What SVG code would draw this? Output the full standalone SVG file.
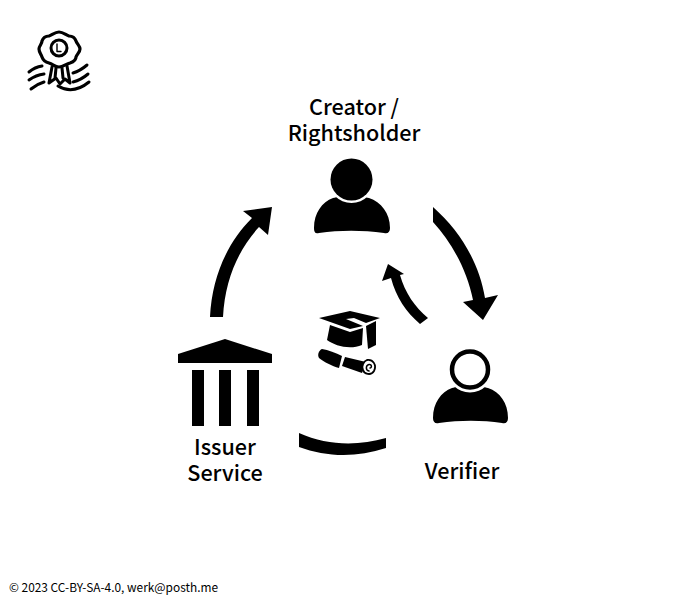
<svg xmlns="http://www.w3.org/2000/svg" width="680" height="604" viewBox="0 0 680 604">
<style>
text{font-family:"Noto Sans CJK SC","Noto Sans",sans-serif;fill:#000}
.l{font-size:21.600px;font-weight:500;text-anchor:middle}
.s{fill:none;stroke:#000;stroke-linecap:round;stroke-linejoin:round}
</style>
<rect width="680" height="604" fill="#fff"/>
<g id="connectors">
<path d="M210 317C212 277 227 243 252 218L243 211L272 207L268 235L259 227C238 250 225 280 223 317Z"/>
<path d="M433 207C460 231 479 262 485 298L498 295L483 320L463 302L473 300C467 270 452 243 433 222Z"/>
<path d="M428 318C415 307 405 293 400 275L404 274L388 264L382 281L391 278C396 297 406 312 420 324Z"/>
<path d="M299 433C328 446 358 446 386 438L386 448C356 458 326 457 299 447Z"/>
</g>
<g id="license-badge">
<path class="s" stroke-width="3.200" d="M59 32C63 32 66 35 69 36C73 36 75 38 76 41C77 44 80 46 80 49C80 52 77 54 76 57C76 60 73 62 70 63C66 64 63 67 59 67C55 67 53 64 49 63C45 62 43 60 42 57C41 54 39 52 39 49C39 46 42 44 42 41C43 38 45 36 49 36C52 35 55 32 59 32Z"/>
<circle class="s" stroke-width="3" cx="59" cy="48" r="8"/>
<path class="s" stroke-width="1.400" d="M57 44V51.500H61"/>
<path class="s" stroke-width="3" d="M52 67L49 83L56 78L60 84L65 79L70 83L67 66M56 68L55 78M62 68L63 78"/>
<path class="s" stroke-width="3" d="M29 72Q35 67 42 66M29 80Q36 75 44 74M31 89Q37 84 44 82M73 73Q80 71 87 65M73 82Q81 80 88 74M58 86Q73 95 89 82"/>
</g>
<g id="creator">
<path d="M333 198C340 196 362 196 369 198C381 202 390 213 390 228C390 232 388 234 384 233C362 230 340 230 319 233C315 234 314 232 314 228C314 213 322 202 333 198Z"/>
<circle cx="351.500" cy="179.500" r="23.500" fill="#fff"/>
<circle cx="351.500" cy="179.500" r="21"/>
<text class="l" x="354" y="115">Creator /</text>
<text class="l" x="354" y="141">Rightsholder</text>
</g>
<g id="issuer">
<path d="M225 339L272 354V363H178V354Z"/>
<rect x="192" y="370" width="12" height="56"/>
<rect x="219" y="370" width="12" height="56"/>
<rect x="247" y="370" width="12" height="56"/>
<text class="l" x="225" y="455">Issuer</text>
<text class="l" x="225" y="481">Service</text>
</g>
<g id="verifier">
<path d="M452 388C458 386 482 386 488 388C500 392 508 403 508 418C508 422 506 424 502 423C482 420 460 420 439 423C435 424 433 422 433 418C433 403 441 392 452 388Z"/>
<circle cx="470" cy="369.500" r="23" fill="#fff"/>
<circle cx="470" cy="369.500" r="18" fill="none" stroke="#000" stroke-width="4.500"/>
<text class="l" x="462" y="479">Verifier</text>
</g>
<g id="credential">
<path d="M319 318L350 311L380 318L366 323L354 318L346 319L363 326L350 329Z"/>
<path d="M330 325L350 332L363 328L362 345C350 350 335 346 327 340Z"/>
<path d="M366 326L376 321L376 345L368 349Z"/>
<path d="M322 349C328 350 336 353 342 356L339 368C332 366 324 362 319 358C317 355 319 350 322 349Z"/>
<path d="M345 357L366 362L362 373L342 366Z"/>
<path d="M367 360C373 359 377 365 374 371C371 376 364 374 363 370C361 366 364 361 367 360Z" fill="#fff" stroke="#000" stroke-width="1.800"/>
<path class="s" stroke-width="1.500" d="M369 371C365 370 366 365 369 364.500C372 364 372 368 370 368"/>
</g>
<text x="9" y="592" font-size="11.900">© 2023 CC-BY-SA-4.0, werk@posth.me</text>
</svg>
